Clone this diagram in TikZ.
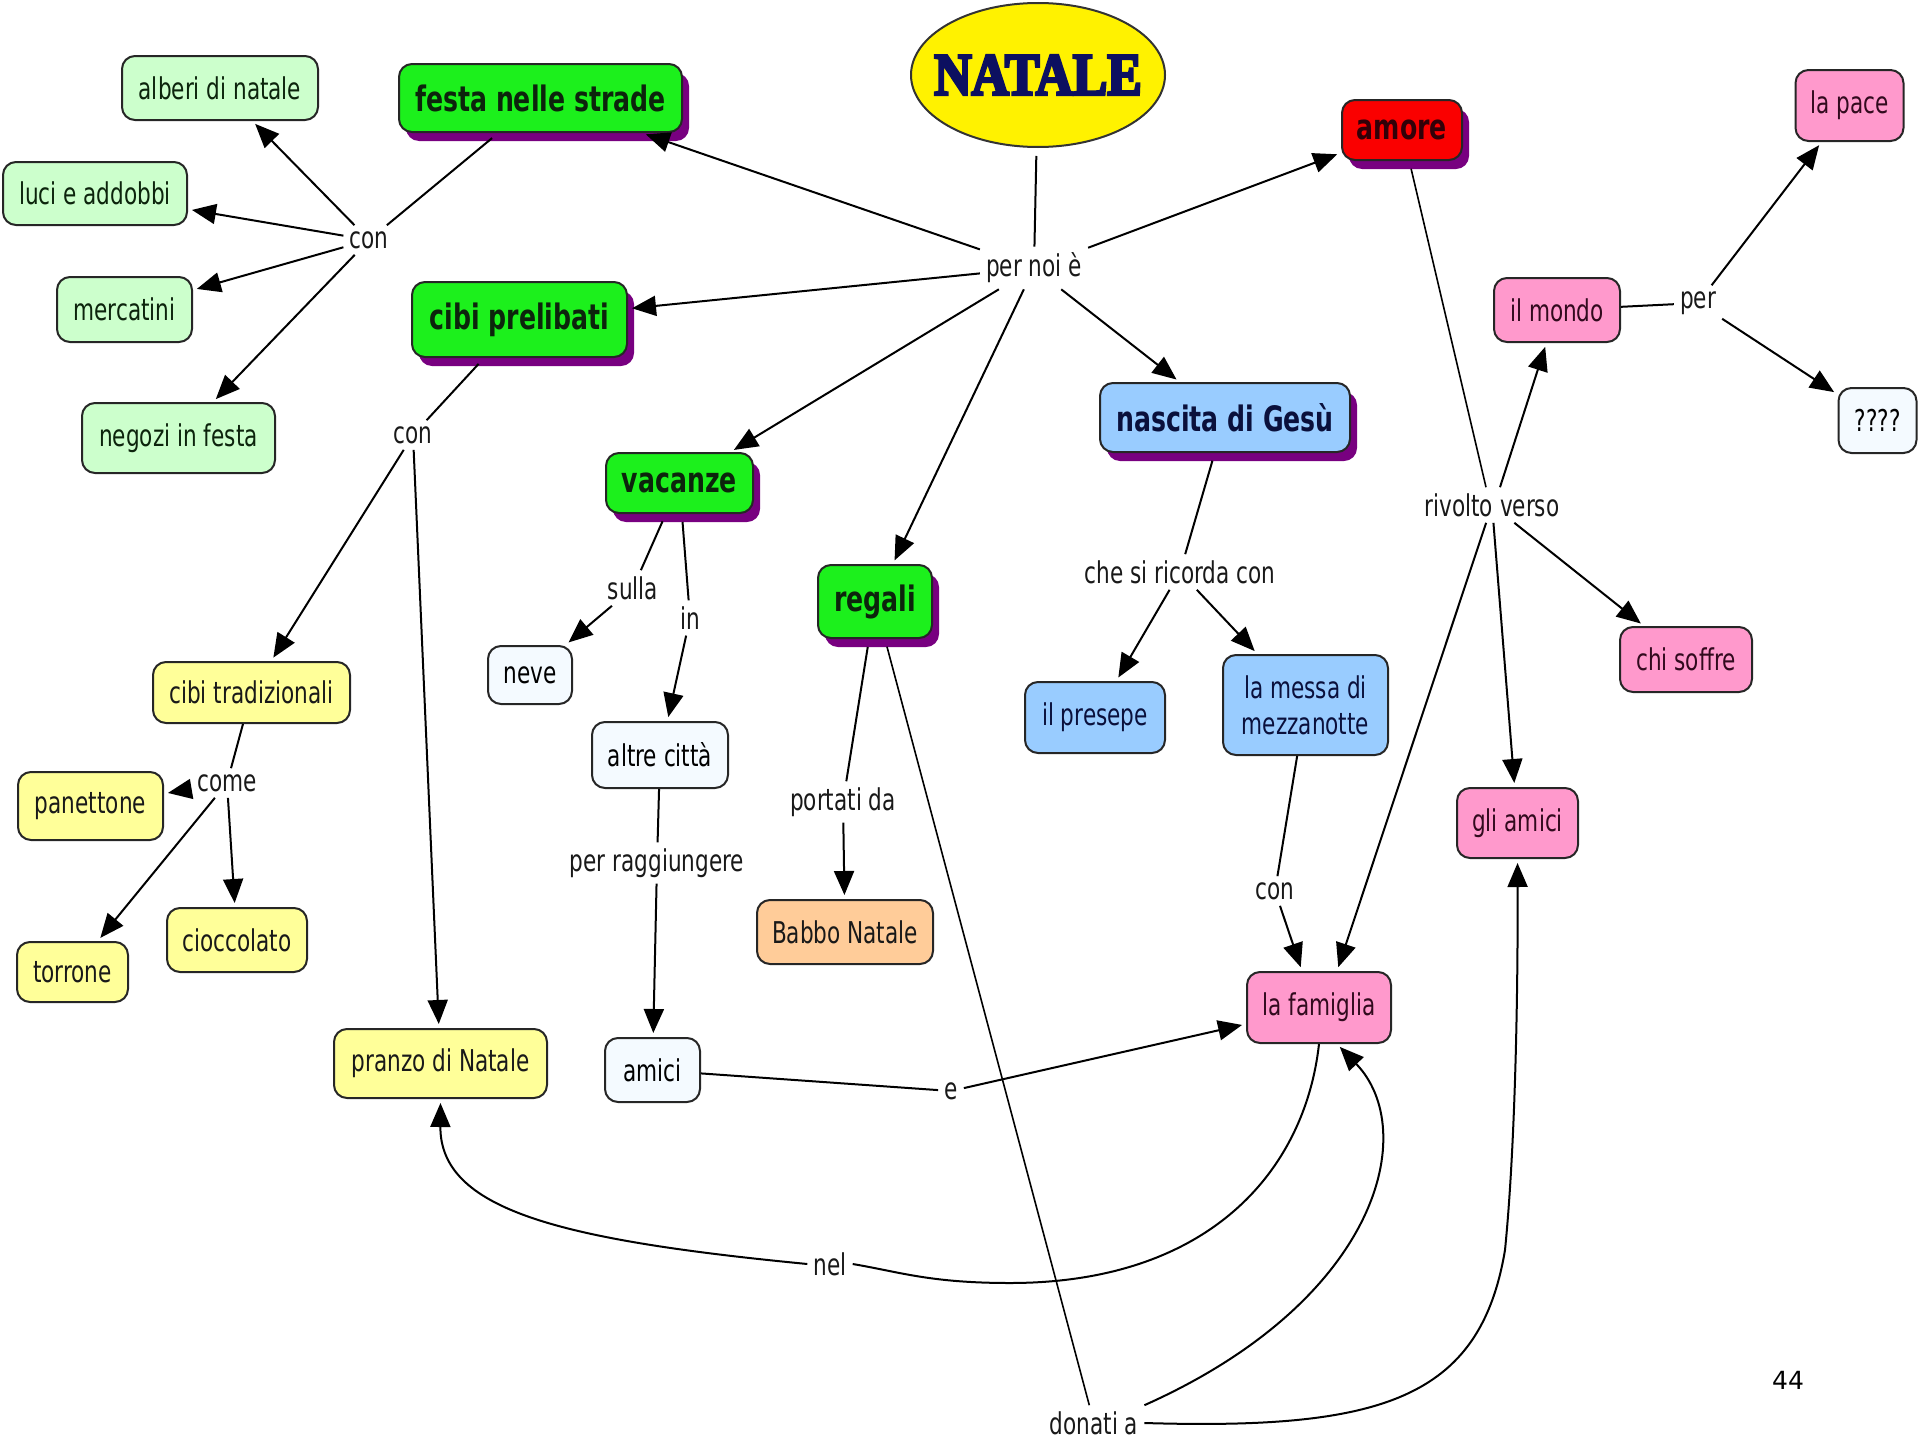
\documentclass[tikz,border=0pt]{standalone}
\usepackage{fontspec}
\setmainfont{DejaVu Sans}[FakeStretch=0.72]
\newfontfamily\titlefont{Liberation Serif}[FakeStretch=0.86, BoldFeatures={FakeBold=4.5}]
\newfontfamily\numfont{DejaVu Sans}
\usetikzlibrary{shapes.geometric, shadows, arrows.meta}

\definecolor{limeg}{RGB}{28,240,28}
\definecolor{palegreen}{RGB}{204,255,204}
\definecolor{pinkc}{RGB}{255,153,204}
\definecolor{bluec}{RGB}{153,204,255}
\definecolor{yellowc}{RGB}{255,255,153}
\definecolor{peachc}{RGB}{255,204,153}
\definecolor{whitec}{RGB}{244,250,255}
\definecolor{redc}{RGB}{250,0,0}
\definecolor{shadowc}{RGB}{120,0,128}
\definecolor{navy}{RGB}{12,16,96}
\definecolor{darkmaroon}{RGB}{50,0,8}
\definecolor{darkpink}{RGB}{50,10,30}
\definecolor{darkblue}{RGB}{10,16,60}
\definecolor{darkgreen}{RGB}{12,36,12}

\tikzset{
  concept/.style={draw=black!85, line width=2pt, rounded corners=13pt,
    align=center, inner sep=0pt, font=\fontsize{30}{36}\selectfont},
  bigconcept/.style={concept, font=\bfseries\fontsize{35}{40}\selectfont,
    general shadow={fill=shadowc, shadow xshift=7pt, shadow yshift=-9pt}},
  gbold/.style={bigconcept, fill=limeg, text=darkgreen},
  rbold/.style={bigconcept, fill=redc, text=darkmaroon},
  bbold/.style={bigconcept, fill=bluec, text=darkblue},
  pg/.style={concept, fill=palegreen, text=darkgreen},
  pk/.style={concept, fill=pinkc, text=darkpink},
  wh/.style={concept, fill=whitec, text=black},
  bl/.style={concept, fill=bluec, text=darkblue},
  ye/.style={concept, fill=yellowc, text=black!90},
  pe/.style={concept, fill=peachc, text=black!90},
  lbl/.style={inner sep=6pt, font=\fontsize{30}{36}\selectfont, text=black!90},
  link/.style={line width=2pt, black},
  thin/.style={line width=1.6pt, black},
  arr/.style={-{Triangle[length=24pt,width=20pt]}, shorten >=4pt},
}

\begin{document}
\begin{tikzpicture}[x=1pt, y=-1pt]
\useasboundingbox (0,0) rectangle (1920,1440);

% central ellipse (the title is set in a zero-width box so the ellipse keeps its size)
\node[ellipse, draw=black!80, line width=2pt, fill=yellow, minimum width=254pt,
  minimum height=144pt, inner sep=0pt] (natale) at (1038,75)
  {\makebox[0pt]{\titlefont\bfseries\color{navy}\fontsize{60}{60}\selectfont NATALE}};

% main concepts
\node[gbold, minimum width=283pt, minimum height=68pt] (festa) at (540.5,98) {festa nelle strade};
\node[gbold, minimum width=215pt, minimum height=75pt] (cibi) at (519.5,319.5) {cibi prelibati};
\node[gbold, minimum width=147pt, minimum height=60pt] (vacanze) at (679.5,483) {vacanze};
\node[gbold, minimum width=114pt, minimum height=73pt] (regali) at (875,601.5) {regali};
\node[rbold, minimum width=120pt, minimum height=60pt] (amore) at (1402,130) {amore};
\node[bbold, minimum width=250pt, minimum height=69pt] (nascita) at (1225,417.5) {nascita di Gesù};

% festa nelle strade
\node[pg, minimum width=196pt, minimum height=64pt] (alberi) at (220,88) {alberi di natale};
\node[pg, minimum width=184pt, minimum height=63pt] (luci) at (95,193.5) {luci e addobbi};
\node[pg, minimum width=135pt, minimum height=65pt] (mercatini) at (124.5,309.5) {mercatini};
\node[pg, minimum width=193pt, minimum height=70pt] (negozi) at (178.5,438) {negozi in festa};

% amore
\node[pk, minimum width=108pt, minimum height=71pt] (lapace) at (1849.5,105.5) {la pace};
\node[pk, minimum width=126pt, minimum height=64pt] (mondo) at (1557,310) {il mondo};
\node[pk, minimum width=132pt, minimum height=65pt] (chisoffre) at (1686,659.5) {chi soffre};
\node[pk, minimum width=121pt, minimum height=70pt] (gliamici) at (1517.5,823) {gli amici};
\node[pk, minimum width=144pt, minimum height=71pt] (famiglia) at (1319,1007.5) {la famiglia};
\node[wh, minimum width=78pt, minimum height=65pt] (qqq) at (1877.5,420.5) {????};

% vacanze
\node[wh, minimum width=84pt, minimum height=58pt] (neve) at (530,675) {neve};
\node[wh, minimum width=136pt, minimum height=66pt] (altre) at (660,755) {altre città};
\node[wh, minimum width=95pt, minimum height=64pt] (amici) at (652.5,1070) {amici};

% nascita di Gesù
\node[bl, minimum width=140pt, minimum height=71pt] (presepe) at (1095,717.5) {il presepe};
\node[bl, minimum width=165pt, minimum height=100pt] (messa) at (1305.5,705) {la messa di\\mezzanotte};

% cibi prelibati
\node[ye, minimum width=197pt, minimum height=61pt] (cibitrad) at (251.5,692.5) {cibi tradizionali};
\node[ye, minimum width=145pt, minimum height=68pt] (panettone) at (90.5,806) {panettone};
\node[ye, minimum width=111pt, minimum height=60pt] (torrone) at (72.5,972) {torrone};
\node[ye, minimum width=140pt, minimum height=64pt] (cioccolato) at (237,940) {cioccolato};
\node[ye, minimum width=213pt, minimum height=69pt] (pranzo) at (440.5,1063.5) {pranzo di Natale};

% regali
\node[pe, minimum width=176pt, minimum height=64pt] (babbo) at (845,932) {Babbo Natale};

% linking phrases
\node[lbl] (pernoi) at (1034,268) {per noi è};
\node[lbl] (con1) at (369,240) {con};
\node[lbl] (con2) at (413,435) {con};
\node[lbl] (come) at (227,783) {come};
\node[lbl] (sulla) at (633,588) {sulla};
\node[lbl] (inlbl) at (690,618) {in};
\node[lbl] (perragg) at (657,863) {per raggiungere};
\node[lbl] (portati) at (843,802) {portati da};
\node[lbl] (che) at (1180,572) {che si ricorda con};
\node[lbl] (con3) at (1275,891) {con};
\node[lbl] (rivolto) at (1492,505) {rivolto verso};
\node[lbl] (per2) at (1698,303) {per};
\node[lbl] (elbl) at (951,1091) {e};
\node[lbl] (nel) at (830,1264) {nel};
\node[lbl] (donati) at (1094,1423) {donati a};

% page number
\node[font=\numfont\fontsize{25}{25}\selectfont] (pagenum) at (1788,1380) {44};

% connectors from the centre
\draw[link, shorten <=8pt] (natale) -- (pernoi);
\draw[link, arr] (pernoi) -- (festa);
\draw[link, arr] (pernoi) -- (cibi);
\draw[link, arr] (pernoi) -- (vacanze);
\draw[link, arr] (pernoi) -- (regali);
\draw[link, arr] (pernoi) -- (nascita);
\draw[link, arr] (pernoi) -- (amore);

% festa nelle strade
\draw[link, shorten <=8pt] (festa) -- (con1);
\draw[link, arr] (con1) -- (alberi);
\draw[link, arr] (con1) -- (luci);
\draw[link, arr] (con1) -- (mercatini);
\draw[link, arr] (con1) -- (negozi);

% cibi prelibati
\draw[link, shorten <=8pt] (cibi) -- (con2);
\draw[link, arr] (con2) -- (cibitrad);
\draw[link, arr] (con2) -- (pranzo);
\draw[link] (cibitrad) -- (come);
\draw[link, arr] (come) -- (panettone);
\draw[link, arr] (come) -- (torrone);
\draw[link, arr] (come) -- (cioccolato);

% vacanze
\draw[link, shorten <=8pt] (vacanze) -- (sulla);
\draw[link, arr] (sulla) -- (neve);
\draw[link, shorten <=8pt] (vacanze) -- (inlbl);
\draw[link, arr] (inlbl) -- (altre);
\draw[link] (altre) -- (perragg);
\draw[link, arr] (perragg) -- (amici);
\draw[link] (amici) -- (elbl);
\draw[link, arr] (elbl) -- (famiglia);

% regali
\draw[link, shorten <=8pt] (regali) -- (portati);
\draw[link, arr] (portati) -- (babbo);
\draw[thin, shorten <=8pt] (regali) -- (donati);
\draw[link, arr] (donati.north east) .. controls (1380,1300) and (1420,1130) .. ([xshift=18pt]famiglia.south);
\draw[link, arr] (donati.east) .. controls (1380,1430) and (1480,1400) .. (1505,1250)
  .. controls (1515,1150) and (1518,1000) .. (gliamici.south);

% nascita di Gesù
\draw[link, shorten <=8pt] (nascita) -- (che);
\draw[link, arr] (che) -- (presepe);
\draw[link, arr] (che) -- (messa);
\draw[link] (messa) -- (con3);
\draw[link, arr] (con3) -- ([xshift=-17pt]famiglia.north);

% amore
\draw[thin, shorten <=8pt] (amore) -- ([xshift=-6pt]rivolto.north);
\draw[link, arr] ([xshift=8pt]rivolto.north) -- (mondo);
\draw[link, arr] (rivolto) -- ([xshift=18pt]famiglia.north);
\draw[link, arr] (rivolto) -- (gliamici);
\draw[link, arr] (rivolto) -- (chisoffre);
\draw[link] (mondo) -- (per2);
\draw[link, arr] (per2) -- (lapace);
\draw[link, arr] (per2) -- (qqq);

% la famiglia nel pranzo di Natale
\draw[link] (famiglia.south) .. controls (1305,1170) and (1210,1283) .. (1010,1283)
  .. controls (930,1283) and (900,1272) .. (nel.east);
\draw[link, arr] (nel.west) .. controls (560,1240) and (440,1210) .. (pranzo.south);
\end{tikzpicture}
\end{document}
